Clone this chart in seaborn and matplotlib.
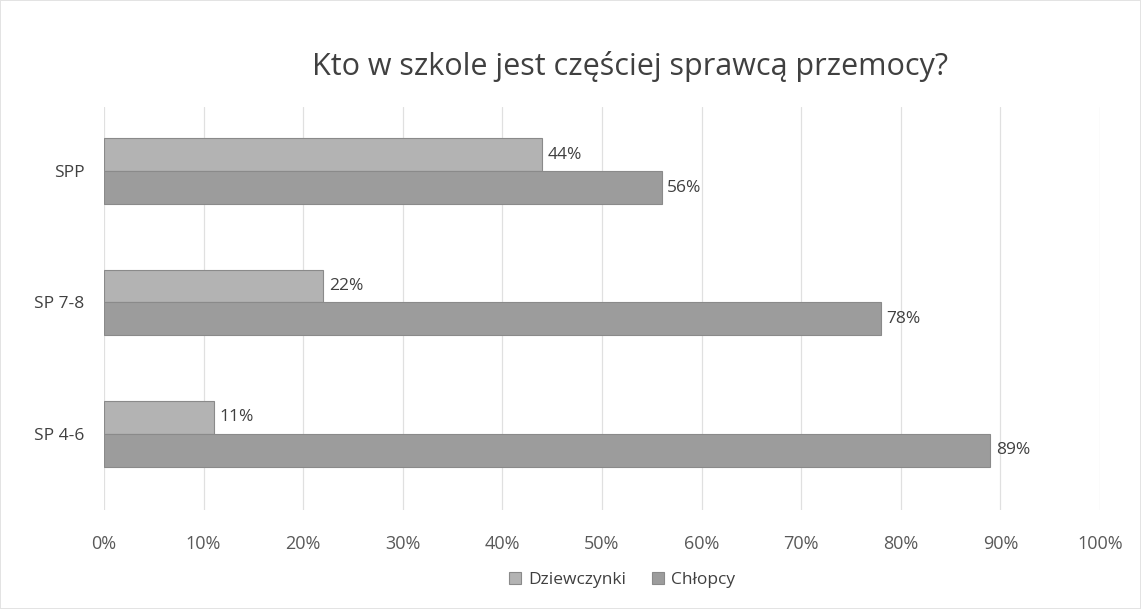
import pandas as pd
import matplotlib
matplotlib.use('Agg')
import matplotlib.pyplot as plt
import seaborn as sns

# dane
kategorie = ['SPP', 'SP 7-8', 'SP 4-6']
dziewczynki = [44, 22, 11]
chlopcy = [56, 78, 89]
serie = ['Dziewczynki', 'Chłopcy']
ticki = [0, 10, 20, 30, 40, 50, 60, 70, 80, 90, 100]

df = pd.DataFrame({
    'Szkoła': kategorie * 2,
    'Procent': dziewczynki + chlopcy,
    'Płeć': [serie[0]] * len(kategorie) + [serie[1]] * len(kategorie),
})

sns.set_theme(style='white')
plt.rcParams['font.family'] = ['Open Sans', 'DejaVu Sans']

fig = plt.figure(figsize=(11.41, 6.09), dpi=100)
fig.patch.set_edgecolor('#e3e3e3')
fig.patch.set_linewidth(1.2)
ax = fig.add_axes([0.0911, 0.1626, 0.873, 0.662])

kolory = {'Dziewczynki': '#b3b3b3', 'Chłopcy': '#9c9c9c'}
sns.barplot(data=df, y='Szkoła', x='Procent', hue='Płeć', order=kategorie,
            hue_order=serie, palette=kolory, width=0.5, orient='h',
            edgecolor='#8a8a8a', linewidth=0.8, saturation=1, ax=ax)

for cont in ax.containers:
    ax.bar_label(cont, fmt='%.0f%%', padding=4, fontsize=12.5, color='#404040')

ax.set_xlim(0, 100)
ax.set_ylim(2.58, -0.49)
ax.set_xticks(ticki)
ax.set_xticklabels([f'{t}%' for t in ticki], fontsize=13, color='#595959')
ax.tick_params(axis='y', labelsize=12.5, labelcolor='#404040', pad=8)
ax.tick_params(axis='x', pad=12)
ax.grid(axis='x', color='#e0e0e0', linewidth=0.9)
ax.set_axisbelow(True)
for s in ax.spines.values():
    s.set_visible(False)
ax.set_xlabel('')
ax.set_ylabel('')

ax.legend(loc='upper center', bbox_to_anchor=(0.52, -0.115), ncol=2, frameon=False,
          fontsize=12.5, handlelength=0.7, handleheight=0.7, columnspacing=1.5,
          handletextpad=0.4, labelcolor='#404040')

fig.text(0.552, 0.89, 'Kto w szkole jest częściej sprawcą przemocy?',
         ha='center', va='center', fontsize=22, color='#404040')

fig.savefig('out.png', dpi=100)
